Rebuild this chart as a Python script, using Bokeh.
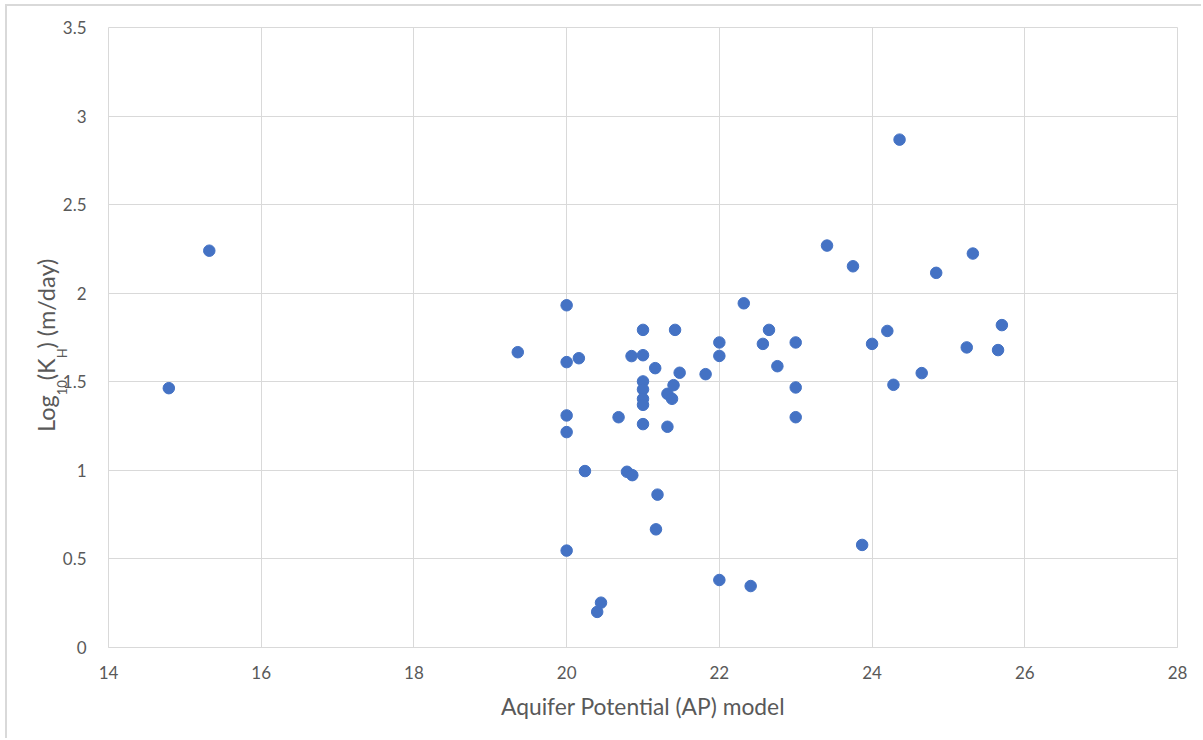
from bokeh.plotting import figure
from bokeh.models import FixedTicker, CustomJSTickFormatter, ColumnDataSource, Div
from bokeh.embed import file_html
from bokeh.resources import INLINE

ap_model = [14.79, 15.32, 19.36, 20.0, 20.0, 20.0, 20.0, 20.0, 20.16, 20.24,
            20.40, 20.45, 20.68, 20.79, 20.86, 20.85, 21.0, 21.0, 21.0, 21.0,
            21.0, 21.0, 21.0, 21.16, 21.17, 21.19, 21.32, 21.32, 21.38, 21.40,
            21.42, 21.48, 21.82, 22.0, 22.0, 22.0, 22.32, 22.41, 22.57, 22.65,
            22.76, 23.0, 23.0, 23.0, 23.41, 23.75, 23.87, 24.0, 24.20, 24.28,
            24.36, 24.65, 24.84, 25.24, 25.32, 25.65, 25.70]
log_kh = [1.464, 2.24, 1.667, 1.932, 1.611, 1.310, 1.216, 0.547, 1.633, 0.996,
          0.201, 0.253, 1.300, 0.992, 0.973, 1.645, 1.793, 1.650, 1.502, 1.457,
          1.404, 1.370, 1.261, 1.577, 0.667, 0.863, 1.432, 1.246, 1.404, 1.481,
          1.793, 1.551, 1.543, 1.722, 1.646, 0.381, 1.943, 0.347, 1.714, 1.793,
          1.588, 1.722, 1.468, 1.300, 2.269, 2.152, 0.579, 1.714, 1.787, 1.483,
          2.867, 1.549, 2.115, 1.694, 2.224, 1.679, 1.820]

x_ticks = [14, 16, 18, 20, 22, 24, 26, 28]
y_ticks = [0, 0.5, 1, 1.5, 2, 2.5, 3, 3.5]

x_title = "Aquifer Potential (AP) model"
y_title_html = "Log<sub>10</sub>(K<sub>H</sub>) (m/day)"

TXT = "#595959"
GRID = "#D9D9D9"
FONT = "Lato"

OX, OY = 7, 6  # content origin inside the outer chart border

p = figure(width=1203 - OX, height=740 - OY, output_backend="svg", toolbar_location=None,
           x_range=(14, 28), y_range=(0, 3.5),
           min_border_left=108 - OX, min_border_right=26, min_border_top=27 - OY,
           min_border_bottom=740 - 647,
           styles={"margin-left": "5px", "margin-top": "4px",
                   "border-left": "2px solid #D9D9D9", "border-top": "2px solid #D9D9D9"})
p.outline_line_color = GRID
p.background_fill_color = "white"
p.border_fill_color = "white"

src = ColumnDataSource(data=dict(x=ap_model, y=log_kh))
p.scatter("x", "y", source=src, size=11.5, fill_color="#4472C4", line_color="#4472C4")

p.xaxis.ticker = FixedTicker(ticks=x_ticks)
p.yaxis.ticker = FixedTicker(ticks=y_ticks)
p.yaxis.formatter = CustomJSTickFormatter(code="return String(tick);")
for ax in (p.xaxis[0], p.yaxis[0]):
    ax.major_tick_line_color = None
    ax.minor_tick_line_color = None
    ax.major_label_text_font = FONT
    ax.major_label_text_font_size = "17px"
    ax.major_label_text_color = TXT
p.xaxis.axis_line_color = GRID
p.yaxis.axis_line_color = None
p.xaxis.major_label_standoff = 12
p.yaxis.major_label_standoff = 16

p.xaxis.axis_label = x_title
p.xaxis.axis_label_text_font = FONT
p.xaxis.axis_label_text_font_size = "22.8px"
p.xaxis.axis_label_text_font_style = "normal"
p.xaxis.axis_label_text_color = TXT
p.xaxis.axis_label_standoff = 10

p.xgrid.grid_line_color = GRID
p.ygrid.grid_line_color = GRID

# rotated y-axis title with real subscripts, overlaid on the left margin
sub_css = "font-size:13px;vertical-align:-12px;line-height:0;"
html = ('<div style="position:absolute;left:30px;top:427px;transform:rotate(-90deg);'
        'transform-origin:0 0;white-space:nowrap;font-family:Lato;font-size:23.5px;'
        'line-height:23.5px;color:%s;">%s</div>'
        % (TXT, y_title_html.replace("<sub>", '<sub style="%s">' % sub_css)))
ytitle = Div(text=html, width=100, height=740,
             styles={"position": "absolute", "left": "0px", "top": "0px"})

open("out.html", "w").write(file_html([p, ytitle], INLINE))
